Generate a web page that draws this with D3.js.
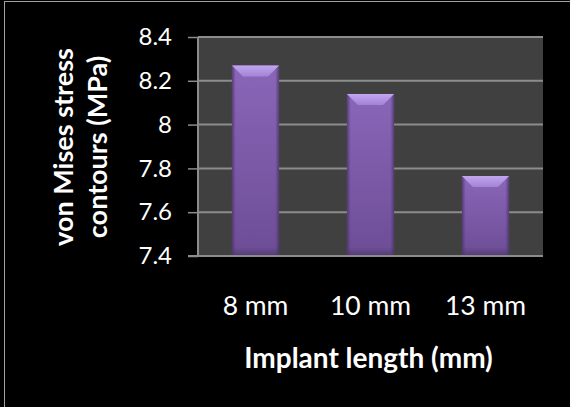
<!DOCTYPE html>
<html><head><meta charset="utf-8">
<script src="https://cdn.jsdelivr.net/npm/d3@7"></script>
<style>html,body{margin:0;padding:0;background:#000;}svg{display:block;}</style>
</head><body>
<script>
const categories = ["8 mm", "10 mm", "13 mm"];
const values = [8.27, 8.14, 7.765];
const yTicks = [7.4, 7.6, 7.8, 8, 8.2, 8.4];
const xTitle = "Implant length (mm)";
const yTitle = ["von Mises stress", "contours (MPa)"];

const W = 570, H = 407;
const m = {left: 198, right: 27, top: 37, bottom: 151};
const iw = W - m.left - m.right, ih = H - m.top - m.bottom;
const font = "Lato, 'Open Sans', sans-serif";

const svg = d3.select("body").append("svg").attr("width", W).attr("height", H);
svg.append("rect").attr("width", W).attr("height", H).attr("fill", "#000");
svg.append("line").attr("x1", 4).attr("x2", W).attr("y1", 1.5).attr("y2", 1.5).attr("stroke", "#a0a0a0").attr("stroke-width", 1);
svg.append("line").attr("x1", 4.5).attr("x2", 4.5).attr("y1", 1).attr("y2", H).attr("stroke", "#a0a0a0").attr("stroke-width", 1);

const defs = svg.append("defs");
const gBody = defs.append("linearGradient").attr("id", "body").attr("x1", 0).attr("x2", 0).attr("y1", 0).attr("y2", 1);
gBody.append("stop").attr("offset", "0%").attr("stop-color", "#8a66b8");
gBody.append("stop").attr("offset", "100%").attr("stop-color", "#6d4d96");
const gSide = defs.append("linearGradient").attr("id", "side").attr("x1", 0).attr("x2", 1).attr("y1", 0).attr("y2", 0);
gSide.append("stop").attr("offset", "0%").attr("stop-color", "#4a3466").attr("stop-opacity", 0.8);
gSide.append("stop").attr("offset", "8%").attr("stop-color", "#4a3466").attr("stop-opacity", 0);
gSide.append("stop").attr("offset", "92%").attr("stop-color", "#4a3466").attr("stop-opacity", 0);
gSide.append("stop").attr("offset", "100%").attr("stop-color", "#4a3466").attr("stop-opacity", 0.8);
const gBot = defs.append("linearGradient").attr("id", "bot").attr("x1", 0).attr("x2", 0).attr("y1", 0).attr("y2", 1);
gBot.append("stop").attr("offset", "0%").attr("stop-color", "#4a3466").attr("stop-opacity", 0);
gBot.append("stop").attr("offset", "100%").attr("stop-color", "#4a3466").attr("stop-opacity", 0.7);
const gTop = defs.append("linearGradient").attr("id", "top").attr("x1", 0).attr("x2", 0).attr("y1", 0).attr("y2", 1);
gTop.append("stop").attr("offset", "0%").attr("stop-color", "#c2a6ee");
gTop.append("stop").attr("offset", "100%").attr("stop-color", "#a283d6");

const g = svg.append("g").attr("transform", `translate(${m.left},${m.top})`);
g.append("rect").attr("width", iw).attr("height", ih).attr("fill", "#404040");

const x = d3.scaleBand().domain(categories).range([0, iw]).paddingInner(0.59).paddingOuter(0.295);
const y = d3.scaleLinear().domain([7.4, 8.4]).range([ih, 0]);

// gridlines
g.selectAll(".grid").data(yTicks.slice(1)).join("line")
  .attr("x1", 0).attr("x2", iw).attr("y1", d => y(d)).attr("y2", d => y(d))
  .attr("stroke", "#8c8c8c").attr("stroke-width", 2);

// bars
const bars = g.selectAll(".bar").data(values).join("g");
bars.append("rect").attr("x", (d, i) => x(categories[i])).attr("y", d => y(d))
  .attr("width", x.bandwidth()).attr("height", d => ih - y(d)).attr("fill", "url(#body)");
bars.append("rect").attr("x", (d, i) => x(categories[i])).attr("y", d => y(d))
  .attr("width", x.bandwidth()).attr("height", d => ih - y(d)).attr("fill", "url(#side)");
bars.append("rect").attr("x", (d, i) => x(categories[i])).attr("y", d => ih - 9)
  .attr("width", x.bandwidth()).attr("height", 9).attr("fill", "url(#bot)");
bars.append("path").attr("d", (d, i) => {
  const x0 = x(categories[i]), x1 = x0 + x.bandwidth(), t = y(d), b = 11;
  return `M${x0},${t}L${x1},${t}L${x1 - b},${t + b}L${x0 + b},${t + b}Z`;
}).attr("fill", "url(#top)");

// y axis
const ya = g.append("g").call(d3.axisLeft(y).tickValues(yTicks).tickSize(10).tickPadding(16).tickFormat(d3.format("")));
ya.select(".domain").attr("stroke", "#8c8c8c").attr("stroke-width", 2).attr("d", `M0,0V${ih}`);
ya.selectAll(".tick line").attr("stroke", "#8c8c8c").attr("stroke-width", 1.5);
ya.selectAll("text").attr("fill", "#fff").attr("font-family", font).attr("font-size", 24);

// x axis
const xa = g.append("g").attr("transform", `translate(0,${ih})`).call(d3.axisBottom(x).tickSize(0).tickPadding(40));
xa.select(".domain").attr("stroke", "#8c8c8c").attr("stroke-width", 2).attr("d", `M-10,0H${iw}`);
xa.selectAll("text").attr("fill", "#fff").attr("font-family", font).attr("font-size", 26.5);

// titles
svg.append("text").attr("x", m.left + iw / 2 - 2).attr("y", 368).attr("text-anchor", "middle")
  .attr("fill", "#fff").attr("font-family", font).attr("font-weight", "bold").attr("font-size", 28).text(xTitle);
yTitle.forEach((t, i) => {
  svg.append("text").attr("transform", `translate(${73 + i * 34},147) rotate(-90)`).attr("text-anchor", "middle")
    .attr("fill", "#fff").attr("font-family", font).attr("font-weight", "bold").attr("font-size", 27).text(t);
});
</script>
</body></html>
